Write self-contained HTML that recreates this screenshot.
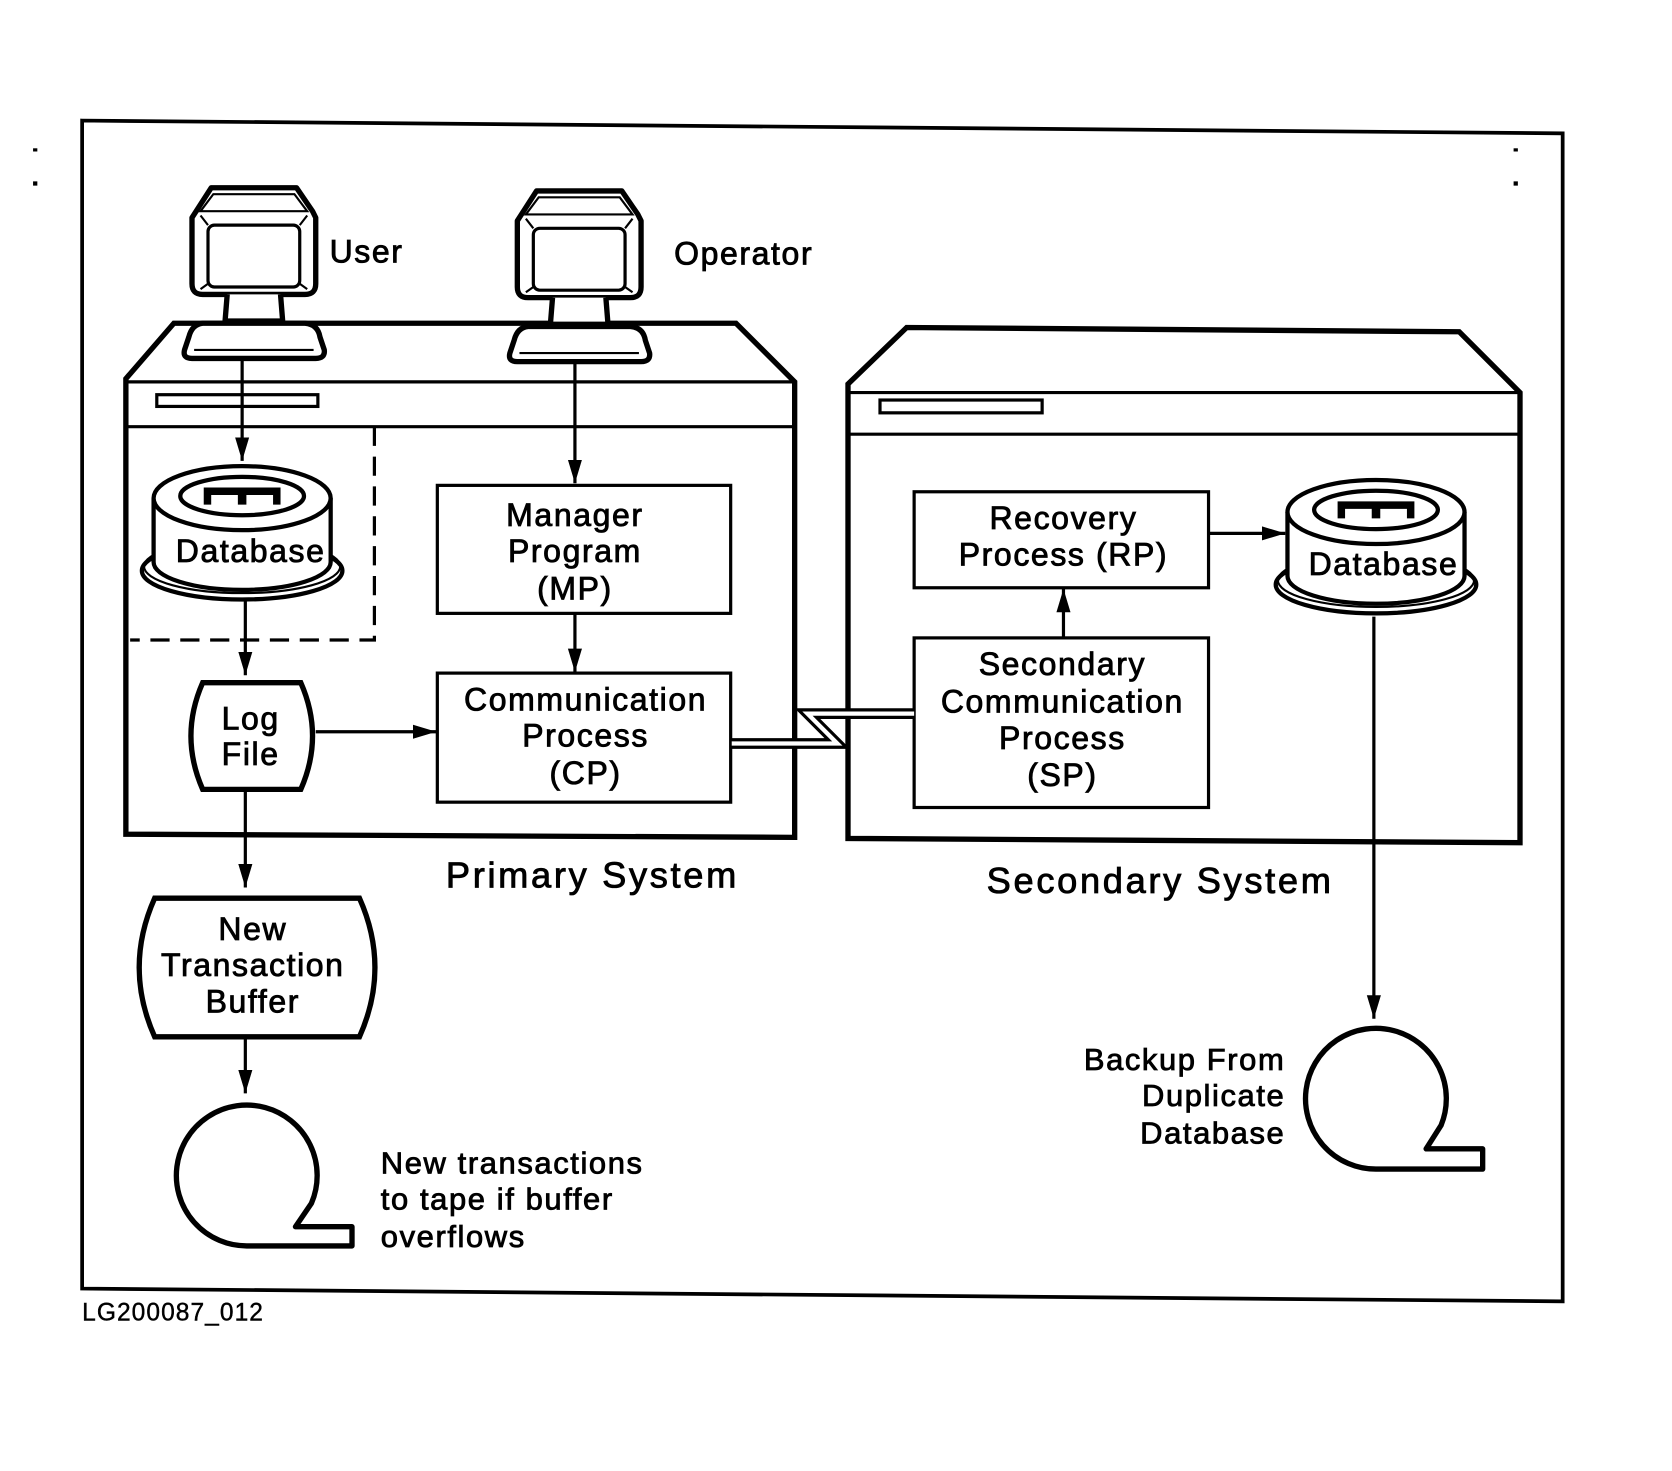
<!DOCTYPE html>
<html><head><meta charset="utf-8"><style>
html,body{margin:0;padding:0;background:#fff}
svg{display:block}
text{font-family:"Liberation Sans","DejaVu Sans",sans-serif;fill:#000;stroke:#000;stroke-width:0.8;letter-spacing:1.5px}
</style></head><body>
<svg width="1672" height="1471" viewBox="0 0 1567.5 1379" xmlns="http://www.w3.org/2000/svg">
<defs>
<g id="db">
 <ellipse cx="0" cy="98" rx="94" ry="27" fill="#fff" stroke="#000" stroke-width="4"/>
 <ellipse cx="0" cy="94" rx="92" ry="25" fill="none" stroke="#000" stroke-width="2"/>
 <path d="M-83,30 L-83,90 A83,26 0 0 0 83,90 L83,30" fill="#fff" stroke="#000" stroke-width="4"/>
 <ellipse cx="0" cy="30" rx="83" ry="30" fill="#fff" stroke="#000" stroke-width="4"/>
 <ellipse cx="0" cy="28" rx="58" ry="18" fill="#fff" stroke="#000" stroke-width="4"/>
 <path d="M-36,36 L-36,20 L36,20 L36,36 L29,36 L29,27 L4,27 L4,36 L-4,36 L-4,27 L-29,27 L-29,36 Z" fill="#000"/>
</g>
<g id="mon">
 <path d="M18,0 L98,0 L113,22 L116,28 L116,90 Q116,100 106,100 L10,100 Q0,100 0,90 L0,28 Z" fill="#fff" stroke="#000" stroke-width="5" stroke-linejoin="round"/>
 <path d="M20,6 L96,6 L108,22 L8,22 Z" fill="none" stroke="#000" stroke-width="2"/>
 <rect x="15" y="35" width="86" height="58" rx="6" fill="#fff" stroke="#000" stroke-width="3"/>
 <path d="M8,26 L15,35 M108,26 L101,35 M8,95 L15,90 M108,95 L101,90" stroke="#000" stroke-width="2"/>
 <path d="M33,100 L31,125 L85,125 L83,100" fill="#fff" stroke="#000" stroke-width="5"/>
 <path d="M10,127 L106,127 Q118,128 120,140 L124,152 Q125,160 116,160 L0,160 Q-9,160 -7,152 L-3,140 Q0,128 10,127 Z" fill="#fff" stroke="#000" stroke-width="5" stroke-linejoin="round"/>
 <path d="M2,152 L114,152" stroke="#000" stroke-width="2"/>
</g>
<marker id="ah" viewBox="0 0 10 10" refX="10" refY="5" markerWidth="22" markerHeight="22" markerUnits="userSpaceOnUse" orient="auto"><path d="M0,2 L10,5 L0,8 Z" fill="#000"/></marker>
</defs>

<path d="M77,113 L1465,125 L1465,1220 L77,1208 Z" fill="none" stroke="#000" stroke-width="3.5"/>
<rect x="31" y="139" width="4" height="3"/><rect x="31" y="170" width="4" height="4"/>
<rect x="1419" y="139" width="4" height="3"/><rect x="1419" y="170" width="4" height="4"/>

<path d="M118,355 L163,303 L690,303 L745,358 L745,785 L118,782 Z" fill="#fff" stroke="#000" stroke-width="5"/>
<line x1="120" y1="358" x2="745" y2="358" stroke="#000" stroke-width="3"/>
<line x1="120" y1="400" x2="745" y2="400" stroke="#000" stroke-width="3"/>
<rect x="147" y="370" width="151" height="11" fill="none" stroke="#000" stroke-width="3"/>
<path d="M351,400 L351,600 L122,600" fill="none" stroke="#000" stroke-width="3" stroke-dasharray="18,10"/>

<path d="M795,360 L850,307 L1368,311 L1425,368 L1425,790 L795,786 Z" fill="#fff" stroke="#000" stroke-width="5"/>
<line x1="797" y1="368" x2="1423" y2="368" stroke="#000" stroke-width="3"/>
<line x1="797" y1="407" x2="1423" y2="407" stroke="#000" stroke-width="3"/>
<rect x="825" y="375" width="152" height="12" fill="none" stroke="#000" stroke-width="3"/>

<use href="#mon" x="180" y="176"/>
<use href="#mon" x="485" y="179"/>
<text x="309" y="246" font-size="30">User</text>
<text x="632" y="248" font-size="30">Operator</text>

<g stroke="#000" stroke-width="3" fill="none" marker-end="url(#ah)">
<line x1="227" y1="336" x2="227" y2="432"/>
<line x1="230" y1="562" x2="230" y2="633"/>
<line x1="230" y1="740" x2="230" y2="832"/>
<line x1="230" y1="974" x2="230" y2="1025"/>
<line x1="539" y1="338" x2="539" y2="453"/>
<line x1="539" y1="576" x2="539" y2="630"/>
<line x1="296" y1="686" x2="409" y2="686"/>
<line x1="997" y1="598" x2="997" y2="552"/>
<line x1="1134" y1="500" x2="1205" y2="500"/>
<line x1="1288" y1="578" x2="1288" y2="955"/>
</g>

<use href="#db" x="227" y="437"/>
<text x="235" y="527" font-size="30" text-anchor="middle">Database</text>
<use href="#db" x="1290" y="450"/>
<text x="1297" y="539" font-size="30" text-anchor="middle">Database</text>

<g fill="#fff" stroke="#000" stroke-width="3">
<rect x="410" y="455" width="275" height="120"/>
<rect x="410" y="631" width="275" height="121"/>
<rect x="857" y="461" width="276" height="90"/>
<rect x="857" y="598" width="276" height="159"/>
</g>
<g font-size="30" text-anchor="middle">
<text x="539" y="493">Manager</text><text x="539" y="527">Program</text><text x="539" y="562">(MP)</text>
<text x="549" y="666">Communication</text><text x="549" y="700">Process</text><text x="549" y="735">(CP)</text>
<text x="997" y="496">Recovery</text><text x="997" y="530">Process  (RP)</text>
<text x="996" y="633">Secondary</text><text x="996" y="668">Communication</text><text x="996" y="702">Process</text><text x="996" y="737">(SP)</text>
</g>

<path d="M686,697 L785,697 L757,669 L857,669" fill="none" stroke="#000" stroke-width="10" stroke-linejoin="miter"/>
<path d="M686,697 L785,697 L757,669 L857,669" fill="none" stroke="#fff" stroke-width="4" stroke-linejoin="miter"/>

<path d="M190,640 L282,640 Q304,690 282,740 L190,740 Q168,690 190,640 Z" fill="#fff" stroke="#000" stroke-width="5"/>
<text x="235" y="684" font-size="30" text-anchor="middle">Log</text>
<text x="235" y="717" font-size="30" text-anchor="middle">File</text>

<path d="M145,842 L337,842 Q366,907 337,972 L145,972 Q116,907 145,842 Z" fill="#fff" stroke="#000" stroke-width="5"/>
<text x="237" y="881" font-size="30" text-anchor="middle">New</text>
<text x="237" y="915" font-size="30" text-anchor="middle">Transaction</text>
<text x="237" y="949" font-size="30" text-anchor="middle">Buffer</text>

<path d="M277,1150 L330,1150 L330,1168 L232,1168 A66,66 0 1 1 292,1128 Z" fill="none" stroke="#000" stroke-width="5" stroke-linejoin="round"/>
<path d="M1337,1077 L1390,1077 L1390,1096 L1290,1096 A66,66 0 1 1 1351,1055 Z" fill="none" stroke="#000" stroke-width="5" stroke-linejoin="round"/>

<text x="418" y="832" font-size="34" style="letter-spacing:2.5px">Primary  System</text>
<text x="925" y="837" font-size="34" style="letter-spacing:2.5px">Secondary  System</text>
<g font-size="29">
<text x="357" y="1100">New transactions</text>
<text x="357" y="1134">to tape if buffer</text>
<text x="357" y="1169">overflows</text>
</g>
<g font-size="29" text-anchor="end">
<text x="1205" y="1003">Backup From</text>
<text x="1205" y="1037">Duplicate</text>
<text x="1205" y="1072">Database</text>
</g>
<text x="77" y="1238" font-size="23" style="letter-spacing:1px;stroke-width:0.4">LG200087_012</text>
</svg>
</body></html>
